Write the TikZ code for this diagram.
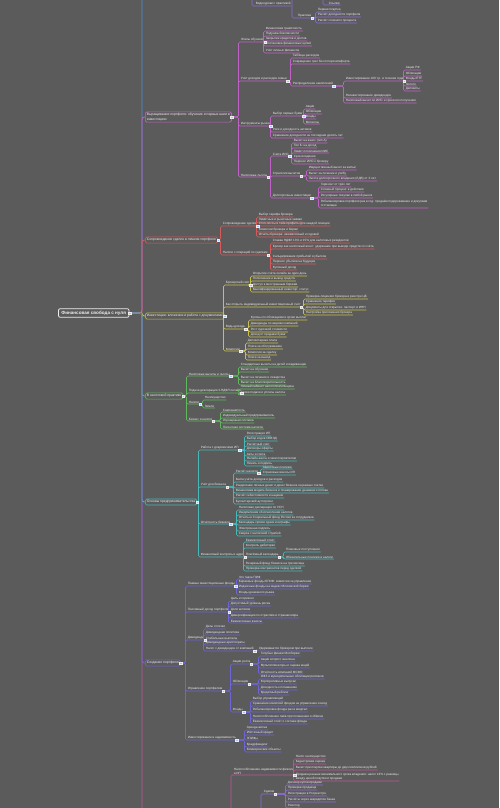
\documentclass[tikz,border=0pt]{standalone}
\usepackage{fontspec}
\setmainfont{Liberation Sans}
\usetikzlibrary{calc}
\definecolor{Bg}{HTML}{5B5B5B}
\definecolor{Bone}{HTML}{ECECEC}
\definecolor{Knob}{HTML}{9CC3FF}
\definecolor{Sky}{HTML}{4A90D9}
\definecolor{Orchid}{HTML}{C061C8}
\definecolor{Brick}{HTML}{D65A5A}
\definecolor{Olive}{HTML}{C9C048}
\definecolor{Grass}{HTML}{5FB85A}
\definecolor{Teal}{HTML}{45B8B8}
\definecolor{Indigo}{HTML}{6E66D6}
\definecolor{Violet}{HTML}{8C6AD8}
\definecolor{Rose}{HTML}{C0509C}

\begin{document}
\begin{tikzpicture}[
  x=1pt,y=-1pt,
  leaf/.style={anchor=south west,inner xsep=.6pt,inner ysep=.7pt,align=left,font=\fontsize{3.1}{3.8}\selectfont,text=Bone},
  topic/.style={draw=#1,fill=Bg,rounded corners=1.5pt,line width=.6pt,anchor=west,inner xsep=1.6pt,inner ysep=1.5pt,align=left,font=\fontsize{3.4}{4.2}\selectfont,text=Bone},
  link/.style={draw=#1,line width=.55pt,rounded corners=1.4pt},
  trunk/.style={draw=#1,line width=.9pt,rounded corners=2.5pt},
  knob/.style={fill=Knob,draw=Bone,line width=.25pt,minimum size=2.6pt,inner sep=0pt}
]
\path[fill=Bg,use as bounding box] (0,0) rectangle (499,808);

% root and main branches
\node[draw=Bone,fill=Bg,rounded corners=2pt,line width=.75pt,anchor=west,inner xsep=3pt,inner ysep=2.2pt,font=\bfseries\fontsize{4.6}{5.5}\selectfont,text=Bone] (root) at (58,313) {Финансовая свобода с нуля};
\node[topic=Orchid] (b1) at (145,117) {Выращивание портфеля: обучение и первые шаги в\\инвестициях};
\node[topic=Brick] (b2) at (145,240) {Сопровождение сделок в личном портфеле};
\node[topic=Olive] (b3) at (145,316) {Инвестиции: вложения и работа с документами};
\node[topic=Grass] (b4) at (145,396) {В налоговой практике};
\node[topic=Teal] (b5) at (145,502) {Основы предпринимательства};
\node[topic=Indigo] (b6) at (145,663) {Создание портфеля};
\coordinate (up) at (145,-60);
\coordinate (down) at (145,880);

\draw[trunk=Sky] (root.east) -| ([xshift=-3pt]up) -- (up);
\draw[trunk=Rose] (root.east) -| ([xshift=-3pt]down) -- (down);
\foreach \b/\c in {b1/Orchid,b2/Brick,b3/Olive,b4/Grass,b5/Teal,b6/Indigo}
  \draw[trunk=\c] (root.east) -| ([xshift=-3pt]\b.west) -- (\b.west);

% top, parents out of frame
\coordinate (upa) at (252,-20);
\coordinate (upb) at (292,-20);
\coordinate (upc) at (323,-20);
\node[leaf] (x1) at (255,6) {Видеоуроки с практикой};
\draw[link=Violet] (upa) |- (x1.south west) -- (x1.south east);
\node[leaf] (x3) at (328,5) {Ссылки};
\draw[link=Violet] (upc) |- (x3.south west) -- (x3.south east);
\node[leaf] (x2) at (297,18) {Практика};
\draw[link=Violet] (upb) |- (x2.south west) -- (x2.south east);
\foreach \y/\t in {10/Первая покупка,15/Расчёт доходности портфеля,21/Расчёт сложного процента}{
  \node[leaf] (c) at (317,\y+2) {\t};
  \draw[link=Violet] (x2.south east) -| ([xshift=-1.5pt]c.south west) -- (c.south east);
}
\node[knob] at (x2.south east) {};

% branch 1
\node[leaf] (b1a) at (240,42) {Этапы обучения};
\draw[link=Orchid] (b1.east) -| ([xshift=-1.5pt]b1a.south west) -- (b1a.south east);
\foreach \y/\t in {29/Финансовая грамотность,34/Подушка безопасности,39/Закрытие кредитов и долгов,44/Постановка финансовых целей,51/Учёт личных финансов}{
  \node[leaf] (c) at (265,\y+2) {\t};
  \draw[link=Orchid] (b1a.south east) -| ([xshift=-1.5pt]c.south west) -- (c.south east);
}
\node[knob] at (b1a.south east) {};

\node[leaf] (b1b) at (240,81) {Учёт доходов и расходов семьи};
\draw[link=Orchid] (b1.east) -| ([xshift=-1.5pt]b1b.south west) -- (b1b.south east);
\foreach \y/\t in {56/Таблица расходов,62/Сокращение трат без потери комфорта}{
  \node[leaf] (c) at (292,\y+2) {\t};
  \draw[link=Orchid] (b1b.south east) -| ([xshift=-1.5pt]c.south west) -- (c.south east);
}
\node[leaf] (b1b1) at (292,86) {Распределение накоплений};
\draw[link=Orchid] (b1b.south east) -| ([xshift=-1.5pt]b1b1.south west) -- (b1b1.south east);
\node[knob] at (b1b.south east) {};
\node[leaf] (b1b2) at (345,81) {Инвестирование 100 т.р. в течение года};
\draw[link=Orchid] (b1b1.south east) -| ([xshift=-1.5pt]b1b2.south west) -- (b1b2.south east);
\foreach \y/\t in {96/Реинвестирование дивидендов,101/Налоговый вычет по ИИС и сроки его получения}{
  \node[leaf] (c) at (345,\y+2) {\t};
  \draw[link=Orchid] (b1b1.south east) -| ([xshift=-1.5pt]c.south west) -- (c.south east);
}
\node[knob] at (b1b1.south east) {};
\foreach \y/\t in {68/Акции РФ,74/Облигации,79/Фонды ETF,84/Золото,89/Депозиты}{
  \node[leaf] (c) at (405,\y+2) {\t};
  \draw[link=Orchid] (b1b2.south east) -| ([xshift=-1.5pt]c.south west) -- (c.south east);
}
\node[knob] at (b1b2.south east) {};

\node[leaf] (b1c) at (240,126) {Инструменты рынка};
\draw[link=Orchid] (b1.east) -| ([xshift=-1.5pt]b1c.south west) -- (b1c.south east);
\node[leaf] (b1c1) at (272,116) {Выбор первых бумаг};
\draw[link=Orchid] (b1c.south east) -| ([xshift=-1.5pt]b1c1.south west) -- (b1c1.south east);
\foreach \y/\t in {130/Риск и доходность активов,136/Сравнение доходности за последние десять лет}{
  \node[leaf] (c) at (272,\y+2) {\t};
  \draw[link=Orchid] (b1c.south east) -| ([xshift=-1.5pt]c.south west) -- (c.south east);
}
\node[knob] at (b1c.south east) {};
\foreach \y/\t in {107/Акции,112/Облигации,117/Фонды,122/Металлы}{
  \node[leaf] (c) at (305,\y+2) {\t};
  \draw[link=Orchid] (b1c1.south east) -| ([xshift=-1.5pt]c.south west) -- (c.south east);
}
\node[knob] at (b1c1.south east) {};

\node[leaf] (b1d) at (240,177) {Налоговые льготы};
\draw[link=Orchid] (b1.east) -| ([xshift=-1.5pt]b1d.south west) -- (b1d.south east);
\node[leaf] (b1d1) at (272,156) {Счета ИИС};
\node[leaf] (b1d2) at (272,176) {Стратегия вычетов};
\node[leaf] (b1d3) at (272,198) {Долгосрочные инвестиции};
\foreach \n in {b1d1,b1d2,b1d3}
  \draw[link=Orchid] (b1d.south east) -| ([xshift=-1.5pt]\n.south west) -- (\n.south east);
\node[knob] at (b1d.south east) {};
\foreach \y/\t in {141/Вычет на взнос (тип А),146/Тип Б: на доход,151/Лимит пополнения ИИС,157/Срок владения,162/Перенос ИИС к брокеру}{
  \node[leaf] (c) at (293,\y+2) {\t};
  \draw[link=Orchid] (b1d1.south east) -| ([xshift=-1.5pt]c.south west) -- (c.south east);
}
\node[knob] at (b1d1.south east) {};
\foreach \y/\t in {168/Имущественный вычет за жильё,174/Вычет за лечение и учёбу,179/Льгота долгосрочного владения (ЛДВ) от 3 лет}{
  \node[leaf] (c) at (308,\y+2) {\t};
  \draw[link=Orchid] (b1d2.south east) -| ([xshift=-1.5pt]c.south west) -- (c.south east);
}
\node[knob] at (b1d2.south east) {};
\foreach \y/\t in {185/Горизонт от трёх лет,190/Сложный процент в действии,196/Регулярные покупки в любой рынок,206/Ребалансировка портфеля раз в год: продаём подорожавшее и докупаем\\отстающее}{
  \node[leaf] (c) at (320,\y+2) {\t};
  \draw[link=Orchid] (b1d3.south east) -| ([xshift=-1.5pt]c.south west) -- (c.south east);
}
\node[knob] at (b1d3.south east) {};
\node[knob] at (b1.east) {};

% branch 2
\node[leaf] (b2a) at (222,226) {Сопровождение сделки};
\node[leaf] (b2b) at (222,255) {Налоги с операций по сделкам};
\foreach \n in {b2a,b2b}
  \draw[link=Brick] (b2.east) -| ([xshift=-1.5pt]\n.south west) -- (\n.south east);
\foreach \y/\t in {215/Выбор тарифа брокера,220/Лимитные и рыночные заявки,224/Стоп-лоссы и тейк-профиты для каждой позиции,230/Комиссии брокера и биржи,235/Отчёты брокера: ежемесячный и годовой}{
  \node[leaf] (c) at (258,\y+2) {\t};
  \draw[link=Brick] (b2a.south east) -| ([xshift=-1.5pt]c.south west) -- (c.south east);
}
\node[knob] at (b2a.south east) {};
\foreach \y/\t in {241/Ставка НДФЛ 13\% и 15\% для налоговых резидентов,247/Брокер как налоговый агент: удержание при выводе средств со счёта,257/Сальдирование прибылей и убытков,262/Перенос убытков на будущее,268/Купонный доход}{
  \node[leaf] (c) at (272,\y+2) {\t};
  \draw[link=Brick] (b2b.south east) -| ([xshift=-1.5pt]c.south west) -- (c.south east);
}
\node[knob] at (b2b.south east) {};
\node[knob] at (b2.east) {};

% branch 3
\node[leaf] (b3a) at (225,285) {Брокерский счёт};
\node[leaf] (b3b) at (225,307) {Как открыть индивидуальный инвестиционный счёт};
\node[leaf] (b3c) at (225,329) {Виды дохода};
\node[leaf] (b3d) at (225,351) {Комиссии};
\foreach \n in {b3a,b3b,b3c,b3d}
  \draw[link=Olive] (b3.east) -| ([xshift=-1.5pt]\n.south west) -- (\n.south east);
\foreach \y/\t in {274/Открытие счёта онлайн за один день,279/Пополнение и вывод средств,285/Доступ к иностранным биржам,290/Квалифицированный инвестор: статус}{
  \node[leaf] (c) at (252,\y+2) {\t};
  \draw[link=Olive] (b3a.south east) -| ([xshift=-1.5pt]c.south west) -- (c.south east);
}
\node[knob] at (b3a.south east) {};
\foreach \y/\t in {297/Проверка лицензии брокера в реестре ЦБ,302/Сравнение тарифов,308/Документы для открытия: паспорт и ИНН,313/Настройка приложения брокера}{
  \node[leaf] (c) at (305,\y+2) {\t};
  \draw[link=Olive] (b3b.south east) -| ([xshift=-1.5pt]c.south west) -- (c.south east);
}
\node[knob] at (b3b.south east) {};
\foreach \y/\t in {318/Купоны по облигациям и сроки выплат,324/Дивиденды по акциям компаний,330/Рост курсовой стоимости,335/Доход от продажи бумаг}{
  \node[leaf] (c) at (250,\y+2) {\t};
  \draw[link=Olive] (b3c.south east) -| ([xshift=-1.5pt]c.south west) -- (c.south east);
}
\node[knob] at (b3c.south east) {};
\foreach \y/\t in {341/Депозитарная плата,347/Плата за обслуживание,353/Комиссия за сделку,358/Плата за вывод}{
  \node[leaf] (c) at (247,\y+2) {\t};
  \draw[link=Olive] (b3d.south east) -| ([xshift=-1.5pt]c.south west) -- (c.south east);
}
\node[knob] at (b3d.south east) {};
\node[knob] at (b3.east) {};

% branch 4
\node[leaf] (b4a) at (188,376) {Налоговые вычеты и льготы};
\node[leaf] (b4b) at (188,393) {Подача декларации 3-НДФЛ онлайн};
\node[leaf] (b4c) at (188,404) {Налоги};
\node[leaf] (b4d) at (188,421) {Бизнес и налоги};
\foreach \n in {b4a,b4b,b4c,b4d}
  \draw[link=Grass] (b4.east) -| ([xshift=-1.5pt]\n.south west) -- (\n.south east);
\foreach \y/\t in {365/Стандартные вычеты на детей и иждивенцев,370/Вычет на обучение,378/Вычет на лечение и лекарства,383/Вычет на благотворительность}{
  \node[leaf] (c) at (240,\y+2) {\t};
  \draw[link=Grass] (b4a.south east) -| ([xshift=-1.5pt]c.south west) -- (c.south east);
}
\node[knob] at (b4a.south east) {};
\foreach \y/\t in {387/Личный кабинет налогоплательщика,393/Сроки подачи и уплаты налога}{
  \node[leaf] (c) at (240,\y+2) {\t};
  \draw[link=Grass] (b4b.south east) -| ([xshift=-1.5pt]c.south west) -- (c.south east);
}
\node[knob] at (b4b.south east) {};
\foreach \y/\t in {398/На имущество,406/Земля}{
  \node[leaf] (c) at (204,\y+2) {\t};
  \draw[link=Grass] (b4c.south east) -| ([xshift=-1.5pt]c.south west) -- (c.south east);
}
\node[knob] at (b4c.south east) {};
\foreach \y/\t in {410/Самозанятость,416/Индивидуальный предприниматель,421/Упрощённая система,427/Патентная система налогов}{
  \node[leaf] (c) at (222,\y+2) {\t};
  \draw[link=Grass] (b4d.south east) -| ([xshift=-1.5pt]c.south west) -- (c.south east);
}
\node[knob] at (b4d.south east) {};
\node[knob] at (b4.east) {};

% branch 5
\node[leaf] (b5a) at (200,450) {Работа с документами ИП};
\node[leaf] (b5b) at (200,487) {Учёт для бизнеса};
\node[leaf] (b5c) at (200,524) {Отчётность бизнеса};
\node[leaf] (b5d) at (200,557) {Финансовый контроль и аудит};
\foreach \n in {b5a,b5b,b5c,b5d}
  \draw[link=Teal] (b5.east) -| ([xshift=-1.5pt]\n.south west) -- (\n.south east);
\foreach \y/\t in {434/Регистрация ИП,439/Выбор кодов ОКВЭД,444/Расчётный счёт,449/Договоры оферты,454/Акты и счета,459/Онлайн-касса и чеки покупателям,464/Печать и подпись}{
  \node[leaf] (c) at (246,\y+2) {\t};
  \draw[link=Teal] (b5a.south east) -| ([xshift=-1.5pt]c.south west) -- (c.south east);
}
\node[knob] at (b5a.south east) {};
\node[leaf] (b5b1) at (235,473) {Расчёт налогов};
\draw[link=Teal] (b5b.south east) -| ([xshift=-1.5pt]b5b1.south west) -- (b5b1.south east);
\foreach \y/\t in {480/Книга учёта доходов и расходов,486/Разделение личных денег и денег бизнеса на разных счетах,491/Финансовая модель бизнеса и планирование денежного потока,496/Расчёт себестоимости и наценки,502/Бухгалтерский аутсорсинг}{
  \node[leaf] (c) at (235,\y+2) {\t};
  \draw[link=Teal] (b5b.south east) -| ([xshift=-1.5pt]c.south west) -- (c.south east);
}
\node[knob] at (b5b.south east) {};
\foreach \y/\t in {467/Авансовые платежи,473/Страховые взносы ИП}{
  \node[leaf] (c) at (262,\y+2) {\t};
  \draw[link=Teal] (b5b1.south east) -| ([xshift=-1.5pt]c.south west) -- (c.south east);
}
\node[knob] at (b5b1.south east) {};
\foreach \y/\t in {508/Налоговая декларация по УСН,513/Уведомления об исчислении налогов,518/Отчёты в Социальный фонд России за сотрудников,523/Календарь сроков сдачи и штрафы,529/Электронная подпись,534/Сверка с налоговой службой}{
  \node[leaf] (c) at (238,\y+2) {\t};
  \draw[link=Teal] (b5c.south east) -| ([xshift=-1.5pt]c.south west) -- (c.south east);
}
\node[knob] at (b5c.south east) {};
\node[leaf] (b5d1) at (245,557) {Платёжный календарь};
\draw[link=Teal] (b5d.south east) -| ([xshift=-1.5pt]b5d1.south west) -- (b5d1.south east);
\foreach \y/\t in {540/Ежемесячный отчёт,546/Контроль дебиторки,564/Резервный фонд бизнеса на три месяца,569/Проверка контрагентов перед сделкой}{
  \node[leaf] (c) at (245,\y+2) {\t};
  \draw[link=Teal] (b5d.south east) -| ([xshift=-1.5pt]c.south west) -- (c.south east);
}
\node[knob] at (b5d.south east) {};
\foreach \y/\t in {550/Плановые поступления,557/Обязательные платежи и налоги}{
  \node[leaf] (c) at (285,\y+2) {\t};
  \draw[link=Teal] (b5d1.south east) -| ([xshift=-1.5pt]c.south west) -- (c.south east);
}
\node[knob] at (b5d1.south east) {};
\node[knob] at (b5.east) {};

% branch 6
\node[leaf] (b6a) at (187,586) {Паевые инвестиционные фонды};
\node[leaf] (b6b) at (187,612) {Пассивный доход портфеля};
\node[leaf] (b6c) at (187,640) {Дивиденды};
\node[leaf] (b6d) at (187,691) {Управление портфелем};
\node[leaf] (b6e) at (187,740) {Инвестирование в недвижимость};
\foreach \n in {b6a,b6b,b6c,b6d,b6e}
  \draw[link=Indigo] (b6.east) -| ([xshift=-1.5pt]\n.south west) -- (\n.south east);
\foreach \y/\t in {577/Что такое ПИФ,582/Биржевые фонды БПИФ: комиссии за управление,587/Индексные фонды на индекс Московской биржи,593/Фонды денежного рынка}{
  \node[leaf] (c) at (238,\y+2) {\t};
  \draw[link=Indigo] (b6a.south east) -| ([xshift=-1.5pt]c.south west) -- (c.south east);
}
\node[knob] at (b6a.south east) {};
\foreach \y/\t in {599/Цель и горизонт,604/Допустимый уровень риска,610/Доли активов,616/Диверсификация по отраслям и странам мира,621/Ежемесячные взносы}{
  \node[leaf] (c) at (230,\y+2) {\t};
  \draw[link=Indigo] (b6b.south east) -| ([xshift=-1.5pt]c.south west) -- (c.south east);
}
\node[knob] at (b6b.south east) {};
\node[leaf] (b6c1) at (205,651) {Налог с дивидендов от компаний};
\draw[link=Indigo] (b6c.south east) -| ([xshift=-1.5pt]b6c1.south west) -- (b6c1.south east);
\foreach \y/\t in {627/Даты отсечки,633/Дивидендная политика,638/Стабильные выплаты,643/Дивидендные аристократы}{
  \node[leaf] (c) at (205,\y+2) {\t};
  \draw[link=Indigo] (b6c.south east) -| ([xshift=-1.5pt]c.south west) -- (c.south east);
}
\node[knob] at (b6c.south east) {};
\node[leaf] (c) at (258,651) {Удерживается брокером при выплате};
\draw[link=Indigo] (b6c1.south east) -| ([xshift=-1.5pt]c.south west) -- (c.south east);
\node[knob] at (b6c1.south east) {};
\node[leaf] (b6d1) at (232,664) {Акции роста};
\node[leaf] (b6d2) at (232,684) {Облигации};
\node[leaf] (b6d3) at (232,712) {Фонды};
\foreach \n in {b6d1,b6d2,b6d3}
  \draw[link=Indigo] (b6d.south east) -| ([xshift=-1.5pt]\n.south west) -- (\n.south east);
\node[knob] at (b6d.south east) {};
\foreach \y/\t in {654/Голубые фишки Мосбиржи,660/Акции второго эшелона,666/Мультипликаторы и оценка акций,672/Отчётность компаний МСФО}{
  \node[leaf] (c) at (260,\y+2) {\t};
  \draw[link=Indigo] (b6d1.south east) -| ([xshift=-1.5pt]c.south west) -- (c.south east);
}
\node[knob] at (b6d1.south east) {};
\foreach \y/\t in {677/ОФЗ и муниципальные облигации регионов,682/Корпоративные выпуски,688/Доходность к погашению,693/Кредитный рейтинг}{
  \node[leaf] (c) at (260,\y+2) {\t};
  \draw[link=Indigo] (b6d2.south east) -| ([xshift=-1.5pt]c.south west) -- (c.south east);
}
\node[knob] at (b6d2.south east) {};
\foreach \y/\t in {699/Выбор управляющей,704/Сравнение комиссий фондов за управление и вход,710/Ребалансировка фонда раз в квартал,717/Налогообложение паёв при погашении и обмене,722/Ежемесячный отчёт о составе фонда}{
  \node[leaf] (c) at (252,\y+2) {\t};
  \draw[link=Indigo] (b6d3.south east) -| ([xshift=-1.5pt]c.south west) -- (c.south east);
}
\node[knob] at (b6d3.south east) {};
\foreach \y/\t in {728/Аренда жилья,733/Ипотечный кредит,738/ЗПИФы,745/Краудфандинг,750/Коммерческие объекты}{
  \node[leaf] (c) at (246,\y+2) {\t};
  \draw[link=Indigo] (b6e.south east) -| ([xshift=-1.5pt]c.south west) -- (c.south east);
}
\node[knob] at (b6e.south east) {};
\node[knob] at (b6.east) {};

% bottom, parents out of frame
\coordinate (dna) at (231,830);
\coordinate (dnb) at (261,830);
\node[leaf] (w1) at (233,775) {Налогообложение недвижимости физлиц\\и ИП};
\draw[link=Rose] (dna) |- (w1.south west) -- (w1.south east);
\foreach \y/\t in {757/Налог на имущество,762/Кадастровая оценка,768/Вычет при покупке квартиры до двух миллионов рублей,779/Продажа раньше минимального срока владения: налог 13\% с разницы\\между ценой покупки и продажи}{
  \node[leaf] (c) at (295,\y+2) {\t};
  \draw[link=Rose] (w1.south east) -| ([xshift=-1.5pt]c.south west) -- (c.south east);
}
\node[knob] at (w1.south east) {};
\node[leaf] (w2) at (263,794) {Сделки};
\draw[link=Violet] (dnb) |- (w2.south west) -- (w2.south east);
\foreach \y/\t in {783/Договор купли-продажи,788/Проверка продавца,794/Регистрация в Росреестре,800/Расчёты через аккредитив банка,806/Риелтор}{
  \node[leaf] (c) at (287,\y+2) {\t};
  \draw[link=Violet] (w2.south east) -| ([xshift=-1.5pt]c.south west) -- (c.south east);
}
\node[knob] at (w2.south east) {};
\node[knob] at (root.east) {};
\end{tikzpicture}
\end{document}
